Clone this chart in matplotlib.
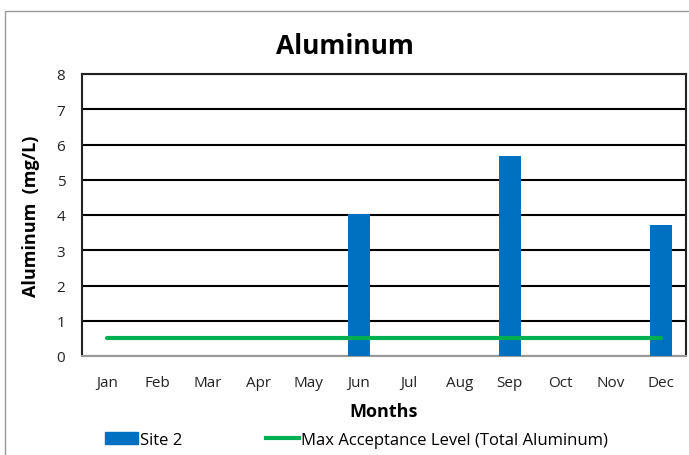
import numpy as np
import matplotlib
matplotlib.use("Agg")
import matplotlib.pyplot as plt
from matplotlib.patches import Rectangle
from matplotlib.lines import Line2D
from matplotlib.patches import Patch

months = ["Jan", "Feb", "Mar", "Apr", "May", "Jun", "Jul", "Aug", "Sep", "Oct", "Nov", "Dec"]
site2 = [0, 0, 0, 0, 0, 4.03, 0, 0, 5.68, 0, 0, 3.72]
max_level = [0.5] * 12

plt.rcParams["font.family"] = ["Open Sans", "DejaVu Sans"]

fig = plt.figure(figsize=(6.89, 4.56), dpi=100)
ax = fig.add_axes([82 / 689, 1 - 357 / 456, (686 - 82) / 689, (357 - 75) / 456])

x = np.arange(len(months))
ax.bar(x, site2, width=0.45, color="#0070C0", zorder=3)
ax.plot(x, max_level, color="#00B050", lw=3, solid_capstyle="round", zorder=4)

ax.set_xlim(-0.5, 11.5)
ax.set_ylim(0, 8)
ax.set_yticks(range(9))
ax.set_xticks(x)
ax.set_xticklabels(months)
ax.tick_params(length=0, labelsize=11, colors="#222222")
ax.tick_params(axis="x", pad=14)
ax.tick_params(axis="y", pad=12)
ax.grid(axis="y", color="black", lw=1.5, zorder=1)
for s in ax.spines.values():
    s.set_color("#222222")
    s.set_linewidth(1.5)
ax.spines["bottom"].set_color("#999999")

ax.set_xlabel("Months", fontsize=13, fontweight="bold", labelpad=8)
ax.set_ylabel("Aluminum  (mg/L)", fontsize=13, fontweight="bold", labelpad=12)
fig.text(0.5, 1 - 47 / 456, "Aluminum", ha="center", va="center", fontsize=19, fontweight="bold")

fig.patches.append(Rectangle((5 / 689, -0.1), 1.1, 1.1 - 12 / 456,
                             transform=fig.transFigure, fill=False, edgecolor="#999999", lw=1))

handles = [Patch(color="#0070C0"), Line2D([0], [0], color="#00B050", lw=3)]
fig.legend(handles, ["Site 2", "Max Acceptance Level (Total Aluminum)"], ncol=2, frameon=False,
           loc="center left", bbox_to_anchor=(90 / 689, 1 - 441 / 456), fontsize=12,
           columnspacing=5, handlelength=2.0, handletextpad=0.1)

fig.savefig("out.png", dpi=100)
